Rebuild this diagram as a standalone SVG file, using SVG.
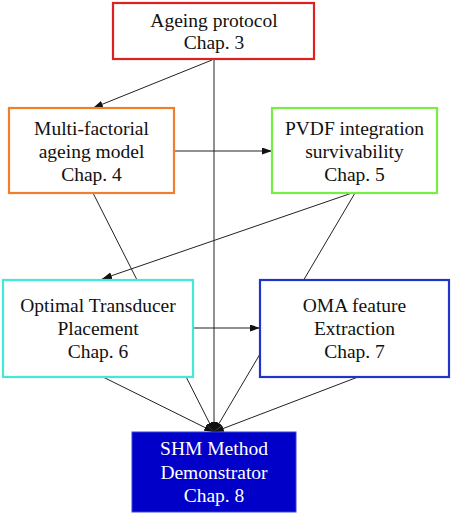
<svg xmlns="http://www.w3.org/2000/svg" width="451" height="514" viewBox="0 0 451 514">
  <style>
    .box { fill: #ffffff; stroke-width: 2.2; }
    text { font-family: "Liberation Serif", "Times New Roman", Times, "DejaVu Serif", serif; font-size: 19.5px; fill: #111111; text-anchor: middle; }
    .inv { fill: #ffffff; }
    .edge { fill: none; stroke: #222222; stroke-width: 1; }
  </style>
  <defs>
    <marker id="arrow" viewBox="0 0 10 7" refX="10" refY="3.5" markerWidth="10" markerHeight="7" markerUnits="userSpaceOnUse" orient="auto">
      <path d="M0,0 L10,3.5 L0,7 Z" fill="#111111"/>
    </marker>
  </defs>
  <rect width="451" height="514" fill="#ffffff"/>

  <g id="connectors">
    <line class="edge" x1="214" y1="60" x2="214" y2="432" marker-end="url(#arrow)"/>
    <line class="edge" x1="212" y1="60" x2="93" y2="108" marker-end="url(#arrow)"/>
    <line class="edge" x1="93" y1="193" x2="214" y2="432" marker-end="url(#arrow)"/>
    <line class="edge" x1="355" y1="193" x2="214" y2="432" marker-end="url(#arrow)"/>
    <line class="edge" x1="352" y1="193" x2="102" y2="279" marker-end="url(#arrow)"/>
    <line class="edge" x1="103" y1="377" x2="214" y2="432" marker-end="url(#arrow)"/>
    <line class="edge" x1="358" y1="377" x2="214" y2="432" marker-end="url(#arrow)"/>
    <line class="edge" x1="174" y1="151" x2="272" y2="151" marker-end="url(#arrow)"/>
    <line class="edge" x1="193" y1="328" x2="260" y2="328" marker-end="url(#arrow)"/>
  </g>

  <g id="n3">
    <rect class="box" x="113" y="3" width="201" height="56" stroke="#dd2020"/>
    <text x="214" y="27" font-family="Liberation Serif, serif">Ageing protocol</text>
    <text x="214" y="49" font-family="Liberation Serif, serif">Chap. 3</text>
  </g>
  <g id="n4">
    <rect class="box" x="9" y="108" width="165" height="85" stroke="#ee7f2d"/>
    <text x="91.5" y="134.5">Multi-factorial</text>
    <text x="91.5" y="157.5">ageing model</text>
    <text x="91.5" y="181">Chap. 4</text>
  </g>
  <g id="n5">
    <rect class="box" x="272" y="108" width="165" height="85" stroke="#77ee44"/>
    <text x="354.5" y="134.5">PVDF integration</text>
    <text x="354.5" y="157.5">survivability</text>
    <text x="354.5" y="181">Chap. 5</text>
  </g>
  <g id="n6">
    <rect class="box" x="3" y="280" width="190" height="97" stroke="#44e8d8"/>
    <text x="98" y="312">Optimal Transducer</text>
    <text x="98" y="335">Placement</text>
    <text x="98" y="358">Chap. 6</text>
  </g>
  <g id="n7">
    <rect class="box" x="260" y="280" width="189" height="97" stroke="#2233cc"/>
    <text x="354.5" y="312">OMA feature</text>
    <text x="354.5" y="335">Extraction</text>
    <text x="354.5" y="358">Chap. 7</text>
  </g>
  <g id="n8">
    <rect x="132" y="432" width="164" height="80" fill="#0000c8" stroke="#3344dd" stroke-width="1"/>
    <text class="inv" x="214" y="455">SHM Method</text>
    <text class="inv" x="214" y="479">Demonstrator</text>
    <text class="inv" x="214" y="502">Chap. 8</text>
  </g>
</svg>
